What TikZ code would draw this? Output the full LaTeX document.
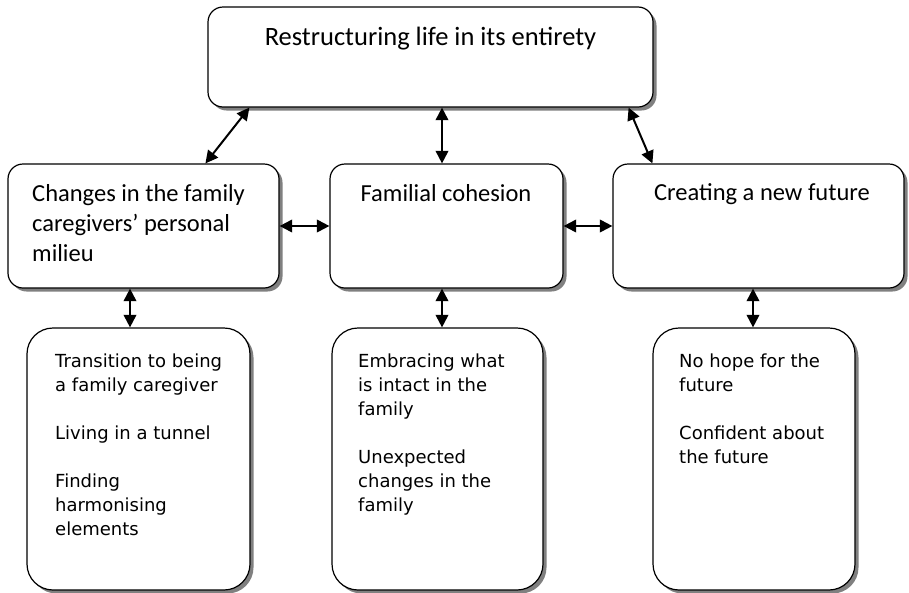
\documentclass[tikz,border=0pt]{standalone}
\usepackage{fontspec}
\setmainfont{Carlito}
\newfontfamily\verd{DejaVu Sans}
\usetikzlibrary{arrows.meta,shadows}
\begin{document}
\begin{tikzpicture}[x=1pt,y=-1pt,
  box/.style={draw,line width=1.2pt,fill=white,rounded corners=15pt,
    drop shadow={shadow xshift=3.5pt,shadow yshift=-3.5pt,fill=black!50,opacity=1},
    inner sep=0pt},
  lbox/.style={box,rounded corners=26pt},
  hd/.style={font=\fontsize{24.5}{30}\selectfont,inner sep=0pt,align=left},
  bt/.style={font=\verd\fontsize{18}{24}\selectfont,inner sep=0pt,align=left,anchor=north west},
  arr/.style={{Triangle[length=12.5pt,width=12.5pt]}-{Triangle[length=12.5pt,width=12.5pt]},line width=2pt}]
\useasboundingbox (0,0) rectangle (909,592);
% boxes
\node[box,minimum width=445pt,minimum height=100pt] (top) at (430.5,57) {};
\node[box,minimum width=271pt,minimum height=124pt] (left) at (143.5,226) {};
\node[box,minimum width=233pt,minimum height=124pt] (mid) at (446.5,226) {};
\node[box,minimum width=291pt,minimum height=124pt] (right) at (758.5,226) {};
\node[lbox,minimum width=223pt,minimum height=262pt] (bl) at (138.5,459) {};
\node[lbox,minimum width=211pt,minimum height=262pt] (bm) at (437.5,459) {};
\node[lbox,minimum width=202pt,minimum height=262pt] (br) at (754,459) {};
% texts
\node[hd,font=\fontsize{26.5}{30}\selectfont,anchor=base] (ttop) at (430.5,45) {Restructuring life in its entirety};
\node[hd,anchor=north west] (tleft) at (32,184) {Changes in the family\\caregivers’ personal\\milieu};
\node[hd,anchor=base] (tmid) at (446,201) {Familial cohesion};
\node[hd,anchor=base] (tright) at (762,200.5) {Creating a new future};
\node[bt] (tbl) at (55,353.5) {Transition to being\\a family caregiver\\[24pt]Living in a tunnel\\[24pt]Finding\\harmonising\\elements};
\node[bt] (tbm) at (358,353.5) {Embracing what\\is intact in the\\family\\[24pt]Unexpected\\changes in the\\family};
\node[bt] (tbr) at (679,353.5) {No hope for the\\future\\[24pt]Confident about\\the future};
% connectors
\draw[arr] ([xshift=42pt]top.south west) -- ([xshift=198pt]left.north west);
\draw[arr] (top.south -| 442,0) -- (mid.north -| 442,0);
\draw[arr] ([xshift=-25pt]top.south east) -- ([xshift=40pt]right.north west);
\draw[arr] (left.east) -- (mid.west);
\draw[arr] (mid.east) -- (right.west);
\draw[arr] (left.south -| 130,0) -- (bl.north -| 130,0);
\draw[arr] (mid.south -| 442,0) -- (bm.north -| 442,0);
\draw[arr] (right.south -| 753,0) -- (br.north -| 753,0);
\end{tikzpicture}
\end{document}
